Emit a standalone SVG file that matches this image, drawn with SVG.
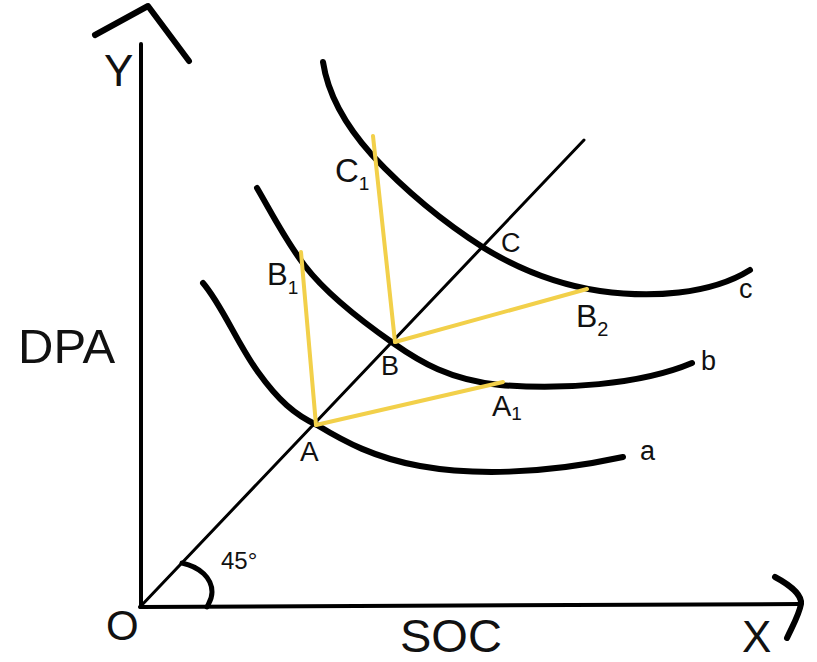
<svg xmlns="http://www.w3.org/2000/svg" width="817" height="662" viewBox="0 0 817 662">
<style>
.ax{fill:none;stroke:#000;stroke-width:4;stroke-linecap:round;stroke-linejoin:round}
.cv{fill:none;stroke:#000;stroke-width:6;stroke-linecap:round;stroke-linejoin:round}
.yl{fill:none;stroke:#F2D04A;stroke-width:4;stroke-linecap:round}
.t{font-family:"Liberation Sans",Arial,sans-serif;fill:#111}
</style>
<rect width="817" height="662" fill="#fff"/>
<g id="axes">
<line class="ax" x1="141" y1="44" x2="141" y2="607"/>
<line class="ax" x1="140" y1="607" x2="800" y2="604"/>
<polyline class="cv" points="95,35 148,6 189,61"/>
<path class="cv" d="M775,577 C790,585 802,595 801,604 C799,615 793,625 787,638"/>
<line class="ax" x1="140" y1="607" x2="584" y2="140" style="stroke-width:3"/>
<path class="cv" style="stroke-width:5" d="M182,563 C200,567 212,578 212,592 C212,600 208,604 207,607"/>
</g>
<g id="curves">
<path id="curve-a" class="cv" d="M203,283 C222,305 238,345 258,372 C278,400 295,415 317,425 C345,442 375,458 420,466 C470,475 540,475 623,457"/>
<path id="curve-b" class="cv" d="M257,188 C270,210 285,240 305,266 C325,292 360,320 393,343 C420,362 450,380 500,385 C560,390 640,385 692,363"/>
<path id="curve-c" class="cv" d="M323,62 C328,95 345,125 372,155 C400,185 440,220 484,248 C520,270 560,285 600,291 C650,298 710,295 750,270"/>
</g>
<g id="connectors">
<line class="yl" x1="316" y1="425" x2="301" y2="252"/>
<line class="yl" x1="316" y1="425" x2="503" y2="382"/>
<line class="yl" x1="395" y1="342" x2="373" y2="136"/>
<line class="yl" x1="395" y1="342" x2="587" y2="289"/>
</g>
<g id="labels">
<text class="t" x="104" y="86" font-size="44">Y</text>
<text class="t" x="18" y="363" font-size="49">DPA</text>
<text class="t" x="106" y="640" font-size="42">O</text>
<text class="t" x="400" y="652" font-size="47">SOC</text>
<text class="t" x="742" y="652" font-size="44">X</text>
<text class="t" x="221" y="569" font-size="24">45°</text>
<text class="t" x="300" y="461" font-size="28">A</text>
<text class="t" x="381" y="375" font-size="27">B</text>
<text class="t" x="501" y="252" font-size="27">C</text>
<text class="t" x="492" y="416" font-size="29">A<tspan font-size="19" dy="4">1</tspan></text>
<text class="t" x="267" y="285" font-size="31">B<tspan font-size="19" dy="9">1</tspan></text>
<text class="t" x="335" y="182" font-size="33">C<tspan font-size="19" dy="8">1</tspan></text>
<text class="t" x="576" y="327" font-size="32">B<tspan font-size="20" dy="9">2</tspan></text>
<text class="t" x="640" y="460" font-size="27">a</text>
<text class="t" x="701" y="370" font-size="27">b</text>
<text class="t" x="739" y="298" font-size="27">c</text>
</g>
</svg>
